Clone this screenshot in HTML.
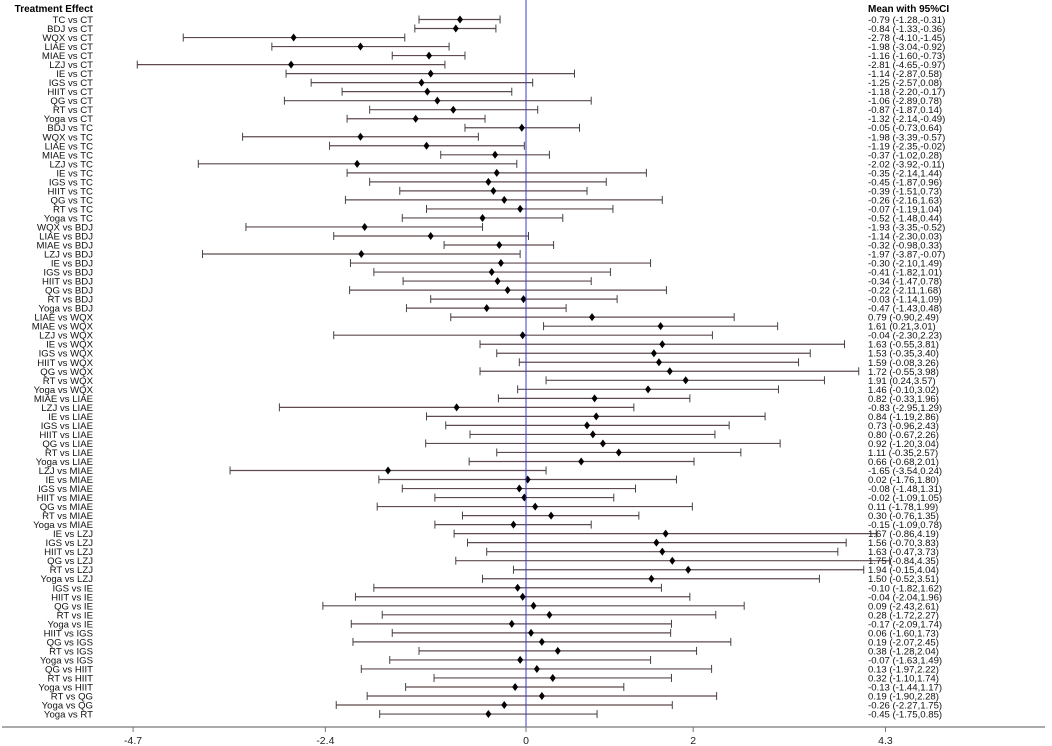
<!DOCTYPE html>
<html><head><meta charset="utf-8"><style>
html,body{margin:0;padding:0;background:#fff;}
svg{display:block;font-family:"Liberation Sans",Arial,sans-serif;}
</style></head><body>
<svg id="chart" width="1052" height="746">
<text x="93" y="12" text-anchor="end" font-size="10" font-weight="bold">Treatment Effect</text>
<text x="868" y="12" font-size="10" font-weight="bold">Mean with 95%CI</text>
<g id="rows"></g>
<g id="axis"></g>
</svg>
<script>
const labels=["TC vs CT","BDJ vs CT","WQX vs CT","LIAE vs CT","MIAE vs CT","LZJ vs CT","IE vs CT","IGS vs CT","HIIT vs CT","QG vs CT","RT vs CT","Yoga vs CT",
"BDJ vs TC","WQX vs TC","LIAE vs TC","MIAE vs TC","LZJ vs TC","IE vs TC","IGS vs TC","HIIT vs TC","QG vs TC","RT vs TC","Yoga vs TC",
"WQX vs BDJ","LIAE vs BDJ","MIAE vs BDJ","LZJ vs BDJ","IE vs BDJ","IGS vs BDJ","HIIT vs BDJ","QG vs BDJ","RT vs BDJ","Yoga vs BDJ",
"LIAE vs WQX","MIAE vs WQX","LZJ vs WQX","IE vs WQX","IGS vs WQX","HIIT vs WQX","QG vs WQX","RT vs WQX","Yoga vs WQX",
"MIAE vs LIAE","LZJ vs LIAE","IE vs LIAE","IGS vs LIAE","HIIT vs LIAE","QG vs LIAE","RT vs LIAE","Yoga vs LIAE",
"LZJ vs MIAE","IE vs MIAE","IGS vs MIAE","HIIT vs MIAE","QG vs MIAE","RT vs MIAE","Yoga vs MIAE",
"IE vs LZJ","IGS vs LZJ","HIIT vs LZJ","QG vs LZJ","RT vs LZJ","Yoga vs LZJ",
"IGS vs IE","HIIT vs IE","QG vs IE","RT vs IE","Yoga vs IE",
"HIIT vs IGS","QG vs IGS","RT vs IGS","Yoga vs IGS",
"QG vs HIIT","RT vs HIIT","Yoga vs HIIT","RT vs QG","Yoga vs QG","Yoga vs RT"];
const means=[-0.79,-0.84,-2.78,-1.98,-1.16,-2.81,-1.14,-1.25,-1.18,-1.06,-0.87,-1.32,
-0.05,-1.98,-1.19,-0.37,-2.02,-0.35,-0.45,-0.39,-0.26,-0.07,-0.52,
-1.93,-1.14,-0.32,-1.97,-0.30,-0.41,-0.34,-0.22,-0.03,-0.47,
0.79,1.61,-0.04,1.63,1.53,1.59,1.72,1.91,1.46,
0.82,-0.83,0.84,0.73,0.80,0.92,1.11,0.66,
-1.65,0.02,-0.08,-0.02,0.11,0.30,-0.15,
1.67,1.56,1.63,1.75,1.94,1.50,
-0.10,-0.04,0.09,0.28,-0.17,
0.06,0.19,0.38,-0.07,
0.13,0.32,-0.13,0.19,-0.26,-0.45];
const lowers=[-1.28,-1.33,-4.10,-3.04,-1.60,-4.65,-2.87,-2.57,-2.20,-2.89,-1.87,-2.14,
-0.73,-3.39,-2.35,-1.02,-3.92,-2.14,-1.87,-1.51,-2.16,-1.19,-1.48,
-3.35,-2.30,-0.98,-3.87,-2.10,-1.82,-1.47,-2.11,-1.14,-1.43,
-0.90,0.21,-2.30,-0.55,-0.35,-0.08,-0.55,0.24,-0.10,
-0.33,-2.95,-1.19,-0.96,-0.67,-1.20,-0.35,-0.68,
-3.54,-1.76,-1.48,-1.09,-1.78,-0.76,-1.09,
-0.86,-0.70,-0.47,-0.84,-0.15,-0.52,
-1.82,-2.04,-2.43,-1.72,-2.09,
-1.60,-2.07,-1.28,-1.63,
-1.97,-1.10,-1.44,-1.90,-2.27,-1.75];
const uppers=[-0.31,-0.36,-1.45,-0.92,-0.73,-0.97,0.58,0.08,-0.17,0.78,0.14,-0.49,
0.64,-0.57,-0.02,0.28,-0.11,1.44,0.96,0.73,1.63,1.04,0.44,
-0.52,0.03,0.33,-0.07,1.49,1.01,0.78,1.68,1.09,0.48,
2.49,3.01,2.23,3.81,3.40,3.26,3.98,3.57,3.02,
1.96,1.29,2.86,2.43,2.26,3.04,2.57,2.01,
0.24,1.80,1.31,1.05,1.99,1.35,0.78,
4.19,3.83,3.73,4.35,4.04,3.51,
1.62,1.96,2.61,2.27,1.74,
1.73,2.45,2.04,1.49,
2.22,1.74,1.17,2.28,1.75,0.85];
const ticks=[-4.7,-2.4,0,2,4.3];

const NS="http://www.w3.org/2000/svg";
const X0=526,K=83.6,Y0=19.5,DY=9.02;
const xs=v=>X0+v*K, ys=i=>Y0+i*DY;
const svg=document.getElementById('chart');
const rows=document.getElementById('rows'), axis=document.getElementById('axis');
function mk(tag,at,parent){const e=document.createElementNS(NS,tag);for(const k in at)e.setAttribute(k,at[k]);parent.appendChild(e);return e;}
const f=v=>v.toFixed(2);

// zero line
const zl=mk('line',{x1:xs(0),x2:xs(0),y1:0,y2:727,stroke:'#3b3bd6','stroke-width':1},axis);



labels.forEach((lab,i)=>{
  const y=ys(i);
  const g=mk('g',{},rows);
  
  
  const t=mk('text',{x:93,y:y+3.5,'text-anchor':'end','font-size':9.6,fill:'#111'},g);
  t.textContent=lab;
  
  
  const l=xs(lowers[i]),u=xs(uppers[i]),m=xs(means[i]);
  const ci=mk('line',{x1:l,x2:u,y1:y,y2:y,stroke:'#5e4a4c','stroke-width':1.2},g);
  
  
  mk('line',{x1:l,x2:l,y1:y-4,y2:y+4,stroke:'#444','stroke-width':1},g);
  mk('line',{x1:u,x2:u,y1:y-4,y2:y+4,stroke:'#444','stroke-width':1},g);
  const d=mk('path',{d:`M${m},${y-4}L${m+3},${y}L${m},${y+4}L${m-3},${y}Z`,fill:'#000'},g);
  
  
  const vt=mk('text',{x:868,y:y+3.5,'font-size':9.6,fill:'#111'},g);
  vt.textContent=`${f(means[i])} (${f(lowers[i])},${f(uppers[i])})`;
  
  
});

const ax=mk('line',{x1:2,x2:1045,y1:727,y2:727,stroke:'#777','stroke-width':1.3},axis);


ticks.forEach(v=>{
  const tk=mk('line',{x1:xs(v),x2:xs(v),y1:727,y2:732,stroke:'#777','stroke-width':1},axis);
  
  
  const tl=mk('text',{x:xs(v),y:744,'text-anchor':'middle','font-size':10.5,fill:'#222'},axis);
  tl.textContent=String(v);
  
  
});
</script>
</body></html>
